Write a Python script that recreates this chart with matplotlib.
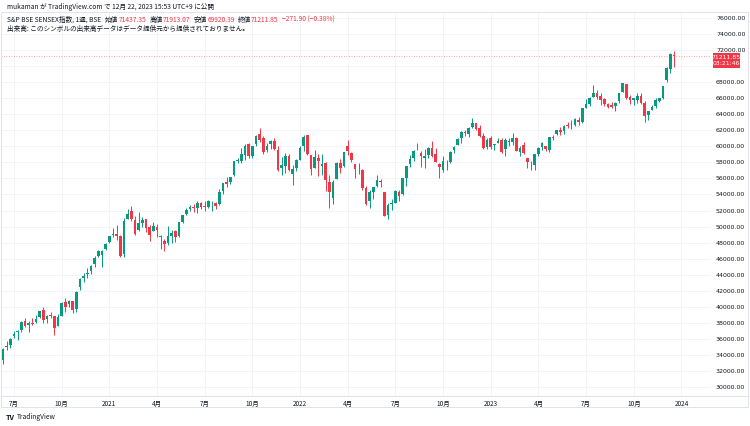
import matplotlib
matplotlib.use("Agg")
import matplotlib.pyplot as plt
from matplotlib.patches import Rectangle
from matplotlib.lines import Line2D
import pandas as pd

plt.rcParams['font.family'] = ['Noto Sans CJK JP', 'DejaVu Sans']

# weekly bars, first bar = week of 2020-06-15
first_week = '2020-06-15'

opens = [
    # 2020
    33350, 34950, 35200, 36300, 36800, 37100, 38250, 37700, 38000, 38050, 38700, 39600, 38500, 38960, 38800,
    37600, 38800, 40600, 40300, 40700, 39700, 42500, 43600, 44100, 44400, 45300, 46300, 46500, 47200,
    # 2021
    48100, 48900, 49100, 48800, 46617, 51000, 52000, 50800, 49600, 50500, 50900, 50000, 49500, 50000, 48700,
    48200, 48000, 48800, 49400, 48800, 50600, 51600, 52200, 52500, 52300, 52900, 52600, 52500, 52900, 53000,
    52800, 54400, 55600, 55500, 56400, 58200, 58200, 58900, 60300, 58800, 60300, 61600, 61000, 59500, 60300,
    60700, 59600, 57300, 57600, 58800, 56500, 57300,
    # 2022
    58300, 60000, 61400, 58900, 57300, 58600, 57500, 57900, 55500, 53500, 55900, 57900, 57500, 60100, 59200,
    57800, 57000, 57000, 54800, 53200, 54300, 55000, 55700, 54300, 51500, 52800, 52900, 54300, 54000, 56000,
    57800, 58500, 59700, 59200, 58500, 58900, 59800, 59000, 57800, 57000, 57900, 58000, 59500, 60200, 61100,
    61800, 61500, 62400, 62900, 62300, 61300, 59900,
    # 2023
    61000, 60200, 60400, 60800, 59700, 60600, 60600, 61100, 59300, 60200, 58600, 57600, 57700, 59100, 59900,
    60100, 59500, 61100, 61500, 62100, 61900, 62700, 62600, 62700, 63300, 63000, 64800, 65300, 66100, 66700,
    66300, 65900, 65300, 65100, 65000, 65600, 66800, 67800, 66100, 65800, 65800, 66300, 65400, 63900, 64500,
    65000, 65700, 66000, 68300, 69700, 71437.35,
]
highs = [
    34843, 35706, 36110, 36975, 37126, 38213, 38617, 38220, 38630, 38990, 39537, 40010, 38955, 39360, 38800,
    39040, 40625, 41048, 40880, 40720, 42000, 43590, 44230, 44825, 45150, 46310, 47056, 47055, 47900,
    48854, 49795, 50184, 48900, 51073, 52154, 52516, 51300, 51822, 51150, 51000, 50200, 50600, 50300, 49000,
    48500, 50100, 49600, 49600, 50600, 51500, 52300, 52641, 52870, 53126, 53100, 53150, 53290, 53200, 53100,
    54700, 55487, 56118, 56200, 58194, 58550, 59737, 60333, 60412, 60100, 61353, 62245, 61300, 60400, 60800,
    61000, 60000, 58700, 59200, 59000, 57700, 58400,
    60000, 61475, 61400, 58900, 59600, 59000, 59000, 58000, 56400, 55800, 58100, 58400, 59300, 60845, 59300,
    57800, 57900, 57200, 55000, 54500, 54900, 56432, 55900, 54300, 52900, 53400, 54600, 54600, 56100, 57600,
    58900, 59600, 60411, 59400, 59700, 59900, 60676, 59800, 57900, 58800, 58300, 59400, 60000, 61000, 61900,
    62000, 62400, 63583, 62900, 62700, 61700, 61100,
    61300, 60300, 61000, 61100, 61000, 61000, 61682, 61200, 60000, 60500, 58600, 58200, 59000, 59900, 60500,
    60100, 61200, 61400, 62100, 62400, 62600, 63000, 63300, 63500, 63600, 64800, 65900, 66100, 67620, 67000,
    66700, 66000, 65400, 65500, 65500, 66700, 67927, 67800, 66400, 66000, 66600, 66600, 65600, 64400, 65100,
    66000, 66000, 67500, 69900, 71600, 71913.07,
]
lows = [
    32923, 34662, 34812, 36154, 35877, 36900, 37510, 36912, 37736, 37951, 38560, 38000, 37935, 38600, 36495,
    37600, 38800, 39390, 40000, 39240, 39330, 42150, 43150, 43600, 44100, 45000, 46160, 44923, 47100,
    47900, 48700, 48300, 46160, 46160, 50900, 50700, 48900, 49400, 50000, 49300, 48236, 49400, 48700, 47204,
    47000, 47700, 47900, 48100, 48700, 50400, 51400, 51950, 51800, 51700, 52200, 52000, 52300, 52000, 52200,
    52700, 54000, 54900, 55300, 56300, 57900, 57900, 58300, 58500, 58600, 60000, 60600, 59100, 59300, 59700,
    59500, 56950, 56382, 56700, 56900, 55132, 56900,
    58300, 59400, 58900, 56409, 57300, 56300, 56400, 54400, 52260, 52800, 55900, 56700, 57400, 58900, 58100,
    56000, 56600, 54500, 52700, 52300, 53400, 54900, 54900, 51260, 50921, 52100, 52900, 53200, 53900, 55100,
    57400, 58200, 59500, 57400, 57300, 58500, 58700, 58000, 56100, 56800, 57100, 57900, 59200, 60200, 60400,
    61300, 61200, 62300, 62000, 61200, 59700, 59700,
    59700, 59500, 60400, 59200, 58800, 60100, 60200, 59400, 58800, 59100, 57300, 57100, 57000, 58800, 59600,
    59400, 59300, 60800, 61400, 61400, 61600, 62300, 62200, 62500, 62700, 62900, 64800, 65000, 66100, 65900,
    65100, 65000, 64800, 64800, 64400, 65400, 66800, 65900, 65300, 65200, 65400, 65300, 63092, 63300, 64500,
    64800, 65500, 65900, 68000, 69200, 69920.39,
]
closes = [
    34731, 35171, 36021, 36594, 37020, 38129, 37607, 38040, 37877, 38434, 39467, 38357, 38854, 38845, 37388,
    38697, 40509, 39983, 40685, 39614, 41893, 43443, 43882, 44150, 45079, 46099, 46961, 46974, 47868,
    48782, 49035, 48878, 46286, 50732, 51544, 50890, 49100, 50405, 50792, 49858, 49008, 50030, 49591, 48832,
    47878, 48782, 49206, 48732, 50540, 51422, 52100, 52474, 52344, 52925, 52485, 52386, 53140, 52975, 52586,
    54277, 55437, 55329, 56124, 58130, 58305, 59015, 60048, 58765, 60059, 61305, 60821, 59307, 60067, 60687,
    59636, 57107, 57696, 58786, 57011, 57124, 58254,
    59744, 61223, 59037, 57200, 58645, 58152, 57833, 55858, 54334, 55550, 57864, 57362, 59277, 59447, 58339,
    57197, 57061, 54836, 52794, 54326, 54885, 55769, 55550, 51360, 52728, 52908, 54482, 53761, 56072, 57570,
    58388, 59463, 59646, 58834, 58803, 59793, 58841, 58099, 57427, 58191, 57920, 59307, 59960, 60950, 61795,
    61663, 62294, 62869, 62182, 61338, 59845, 60841,
    59900, 60261, 60622, 59331, 60842, 60683, 61003, 59464, 59809, 59135, 57990, 57527, 58992, 59833, 60431,
    59655, 61112, 61054, 62028, 61730, 62502, 62547, 62625, 63385, 62979, 64719, 65280, 66061, 66684, 66160,
    65721, 65323, 64949, 64887, 65387, 66599, 67839, 66009, 65828, 65996, 66283, 65398, 63782, 64364, 64904,
    65795, 65970, 67481, 69826, 71484, 71211.85,
]

price_ticks = list(range(30000, 76001, 2000))
hidden_tick = 70000  # covered by the last-price marker
header = "mukaman が TradingView.com で 12月 22, 2023 15:53 UTC+9 に公開"
symbol = "S&P BSE SENSEX指数, 1週, BSE"
ohlc_txt = [("始値", "71437.35"), ("高値", "71913.07"), ("安値", "69920.39"), ("終値", "71211.85")]
change_txt = "−271.90 (−0.38%)"
volume_txt = "出来高: このシンボルの出来高データはデータ提供元から提供されておりません。"
last_price = 71211.85
countdown = "03:21:46"

UP = '#089981'
DOWN = '#f23645'
TXT = '#131722'
GRID = '#f3f4f7'
NUM_FONT = 'DejaVu Sans'
W, H = 750, 426


def fx(px):
    return px / W


def fy(py):
    return 1 - py / H


fig = plt.figure(figsize=(7.5, 4.26), dpi=100)
fig.patch.set_facecolor('white')
ax = fig.add_axes([fx(1), fy(396), 710 / W, 383 / H])

n = len(closes)
for i in range(n):
    o, h, l, c = opens[i], highs[i], lows[i], closes[i]
    col = UP if c >= o else DOWN
    ax.vlines(i, l, h, color=col, linewidth=0.7, zorder=3)
    ax.bar(i, max(abs(c - o), 70), bottom=min(o, c), width=0.74, color=col, linewidth=0, zorder=4)

ax.set_xlim(-0.545, 193.07)
ax.set_ylim(28880, 76623)

# time axis labels at the first bar of Jan/Apr/Jul/Oct
dates = pd.date_range(first_week, periods=200, freq='W-MON')
tick_pos, tick_lbl = [], []
for i in range(1, len(dates)):
    d = dates[i]
    if d.month != dates[i - 1].month and d.month in (1, 4, 7, 10):
        if i > 193:
            break
        tick_pos.append(i)
        tick_lbl.append(str(d.year) if d.month == 1 else f"{d.month}月")
ax.set_xticks(tick_pos, tick_lbl)
ax.set_yticks(price_ticks, ["" if v == hidden_tick else f"{v:.2f}" for v in price_ticks])
ax.yaxis.tick_right()
ax.tick_params(axis='y', length=0, pad=3.6, labelsize=4.5, labelcolor=TXT)
ax.tick_params(axis='x', length=0, pad=2.6, labelsize=4.6, labelcolor=TXT)
for lbl in ax.get_yticklabels():
    lbl.set_family(NUM_FONT)
ax.grid(True, color=GRID, linewidth=0.7)
ax.set_axisbelow(True)
for s in ax.spines.values():
    s.set_visible(False)

ax.axhline(last_price, color=DOWN, linewidth=0.6, linestyle=(0, (1, 2)), alpha=0.6, zorder=2)

# frame and time-axis separator
fig.patches.append(Rectangle((fx(1), fy(407)), 747 / W, 395 / H, transform=fig.transFigure,
                             fill=False, edgecolor='#e0e3eb', linewidth=0.7))
fig.lines.append(Line2D([fx(1), fx(748)], [fy(396), fy(396)], transform=fig.transFigure,
                        color='#e0e3eb', linewidth=0.7))

# last price label
fig.patches.append(Rectangle((fx(713), fy(67.5)), 27 / W, 14.5 / H, transform=fig.transFigure,
                             facecolor=DOWN, edgecolor='none'))
fig.text(fx(726.5), fy(57.4), f"{last_price:.2f}", color='white', fontsize=4.4, family=NUM_FONT,
         ha='center', va='center')
fig.text(fx(726.5), fy(63.6), countdown, color='white', fontsize=4.4, family=NUM_FONT,
         ha='center', va='center')

# header texts
fig.text(fx(7), fy(7), header, color=TXT, fontsize=4.8, va='center')
renderer = fig.canvas.get_renderer()


def put_row(x, y, parts, size=4.8):
    for s, c, gap in parts:
        t = fig.text(fx(x), fy(y), s, color=c, fontsize=size, va='center')
        x += t.get_window_extent(renderer).width + gap


parts = [(symbol, TXT, 4)]
for k, v in ohlc_txt:
    parts.append((k, TXT, 0.3))
    parts.append((v, DOWN, 3))
parts.append((change_txt, DOWN, 0))
put_row(7, 20, parts)
fig.text(fx(7), fy(29), volume_txt, color=TXT, fontsize=4.8, va='center')

# footer
fig.text(fx(6), fy(417), "TV", color=TXT, fontsize=5.2, fontweight='bold', va='center')
fig.text(fx(17), fy(417), "TradingView", color=TXT, fontsize=4.8, va='center')

fig.savefig('out.png', dpi=100, facecolor='white')
